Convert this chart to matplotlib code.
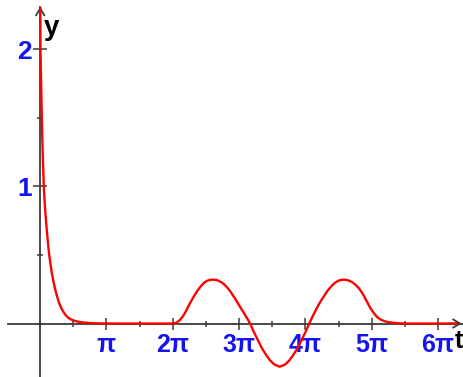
import numpy as np
import matplotlib
matplotlib.use("Agg")
import matplotlib.pyplot as plt
from matplotlib.ticker import MultipleLocator, FixedLocator, FixedFormatter

# curve (t in radians)
t_decay = [0.0, 0.014, 0.045, 0.076, 0.12, 0.17, 0.22, 0.28, 0.36, 0.42, 0.48,
           0.55, 0.61, 0.7, 0.8, 0.9, 1.04, 1.18, 1.33, 1.5, 1.74, 2.0, 2.3,
           2.8, 3.5, 4.71]
y_decay = [2.45, 2.0, 1.74, 1.5, 1.24, 1.0, 0.86, 0.74, 0.6, 0.51, 0.44,
           0.37, 0.32, 0.255, 0.197, 0.148, 0.1, 0.066, 0.042, 0.027, 0.015, 0.008, 0.004,
           0.001, 0.0, 0.0]
t_wave = [6.28, 6.45, 6.6, 6.75, 6.9, 7.07, 7.25, 7.42, 7.6, 7.75, 7.9, 8.05, 8.2,
          8.35, 8.5, 8.67, 8.85, 9.02, 9.2, 9.4, 9.6, 9.78, 9.95,
          10.1, 10.3, 10.5, 10.7, 10.9, 11.1, 11.35, 11.6, 11.8, 12.0, 12.2, 12.4,
          12.6, 12.75,
          12.92, 13.1, 13.28, 13.45, 13.62, 13.8, 13.95, 14.1, 14.25, 14.42, 14.58,
          14.75, 14.92, 15.1, 15.28, 15.45, 15.62, 15.8, 15.95, 16.1, 16.3, 16.5,
          16.75, 17.0, 17.5, 19.7]
y_wave = [0.0, 0.006, 0.022, 0.05, 0.088, 0.14, 0.19, 0.232, 0.27, 0.295, 0.311, 0.319, 0.32,
          0.318, 0.308, 0.292, 0.265, 0.232, 0.19, 0.14, 0.09, 0.045, 0.0,
          -0.053, -0.116, -0.178, -0.228, -0.27, -0.299, -0.315, -0.3, -0.27, -0.228, -0.178, -0.116,
          -0.053, 0.0,
          0.055, 0.11, 0.16, 0.2, 0.24, 0.272, 0.295, 0.31, 0.318, 0.32, 0.316,
          0.305, 0.286, 0.258, 0.218, 0.17, 0.12, 0.078, 0.05, 0.032, 0.018, 0.01,
          0.005, 0.002, 0.0, 0.0]

x_ticks = [1, 2, 3, 4, 5, 6]
x_labels = ["π", "2π", "3π", "4π", "5π", "6π"]
y_ticks = [1, 2]
y_labels = ["1", "2"]

blue = "#1414f0"
grey = "#3a3a3a"
plt.rcParams['font.family'] = ['Liberation Sans', 'DejaVu Sans']

fig = plt.figure(figsize=(4.63, 3.77), dpi=100)
ax = fig.add_axes([8 / 463, 0.0, (461.7 - 8) / 463, (377 - 6.7) / 377])
ax.set_xlim(-1.526, 19.975)
ax.set_ylim(-0.390, 2.311)

ax.plot(t_decay + t_wave, y_decay + y_wave, color="red", lw=1.7, zorder=5)

for side in ["top", "right"]:
    ax.spines[side].set_visible(False)
ax.spines["left"].set_position(("data", 0))
ax.spines["bottom"].set_position(("data", 0))
for side in ["left", "bottom"]:
    ax.spines[side].set_color(grey)
    ax.spines[side].set_linewidth(1.3)

ax.xaxis.set_major_locator(FixedLocator([v * np.pi for v in x_ticks]))
ax.xaxis.set_major_formatter(FixedFormatter(x_labels))
ax.xaxis.set_minor_locator(MultipleLocator(np.pi / 2))
ax.yaxis.set_major_locator(FixedLocator(y_ticks))
ax.yaxis.set_major_formatter(FixedFormatter(y_labels))
ax.yaxis.set_minor_locator(MultipleLocator(0.5))

ax.tick_params(which="major", direction="inout", length=9, width=1.1, color=grey,
               labelsize=18, labelcolor=blue, pad=2)
ax.tick_params(which="minor", direction="inout", length=5, width=1.1, color=grey)
ax.tick_params(axis="y", which="major", length=10, pad=1, labelsize=19)
for lab in ax.get_xticklabels() + ax.get_yticklabels():
    lab.set_fontweight("bold")

# arrow heads
arrow = dict(arrowstyle="->,head_length=0.5,head_width=0.3", color=grey, lw=1.3,
             shrinkA=0, shrinkB=0)
ax.annotate("", xy=(1.0, 0), xytext=(0.97, 0), xycoords=("axes fraction", "data"),
            arrowprops=arrow, annotation_clip=False)
ax.annotate("", xy=(0, 1.0), xytext=(0, 0.96), xycoords=("data", "axes fraction"),
            arrowprops=arrow, annotation_clip=False)

fig.text(44 / 463, 1 - 35 / 377, "y", fontsize=20, fontweight="bold", color="black",
         ha="left", va="baseline")
fig.text(463 / 463, 1 - 348 / 377, "t", fontsize=18, fontweight="bold", color="black",
         ha="right", va="baseline")

fig.savefig("out.png", dpi=100)
